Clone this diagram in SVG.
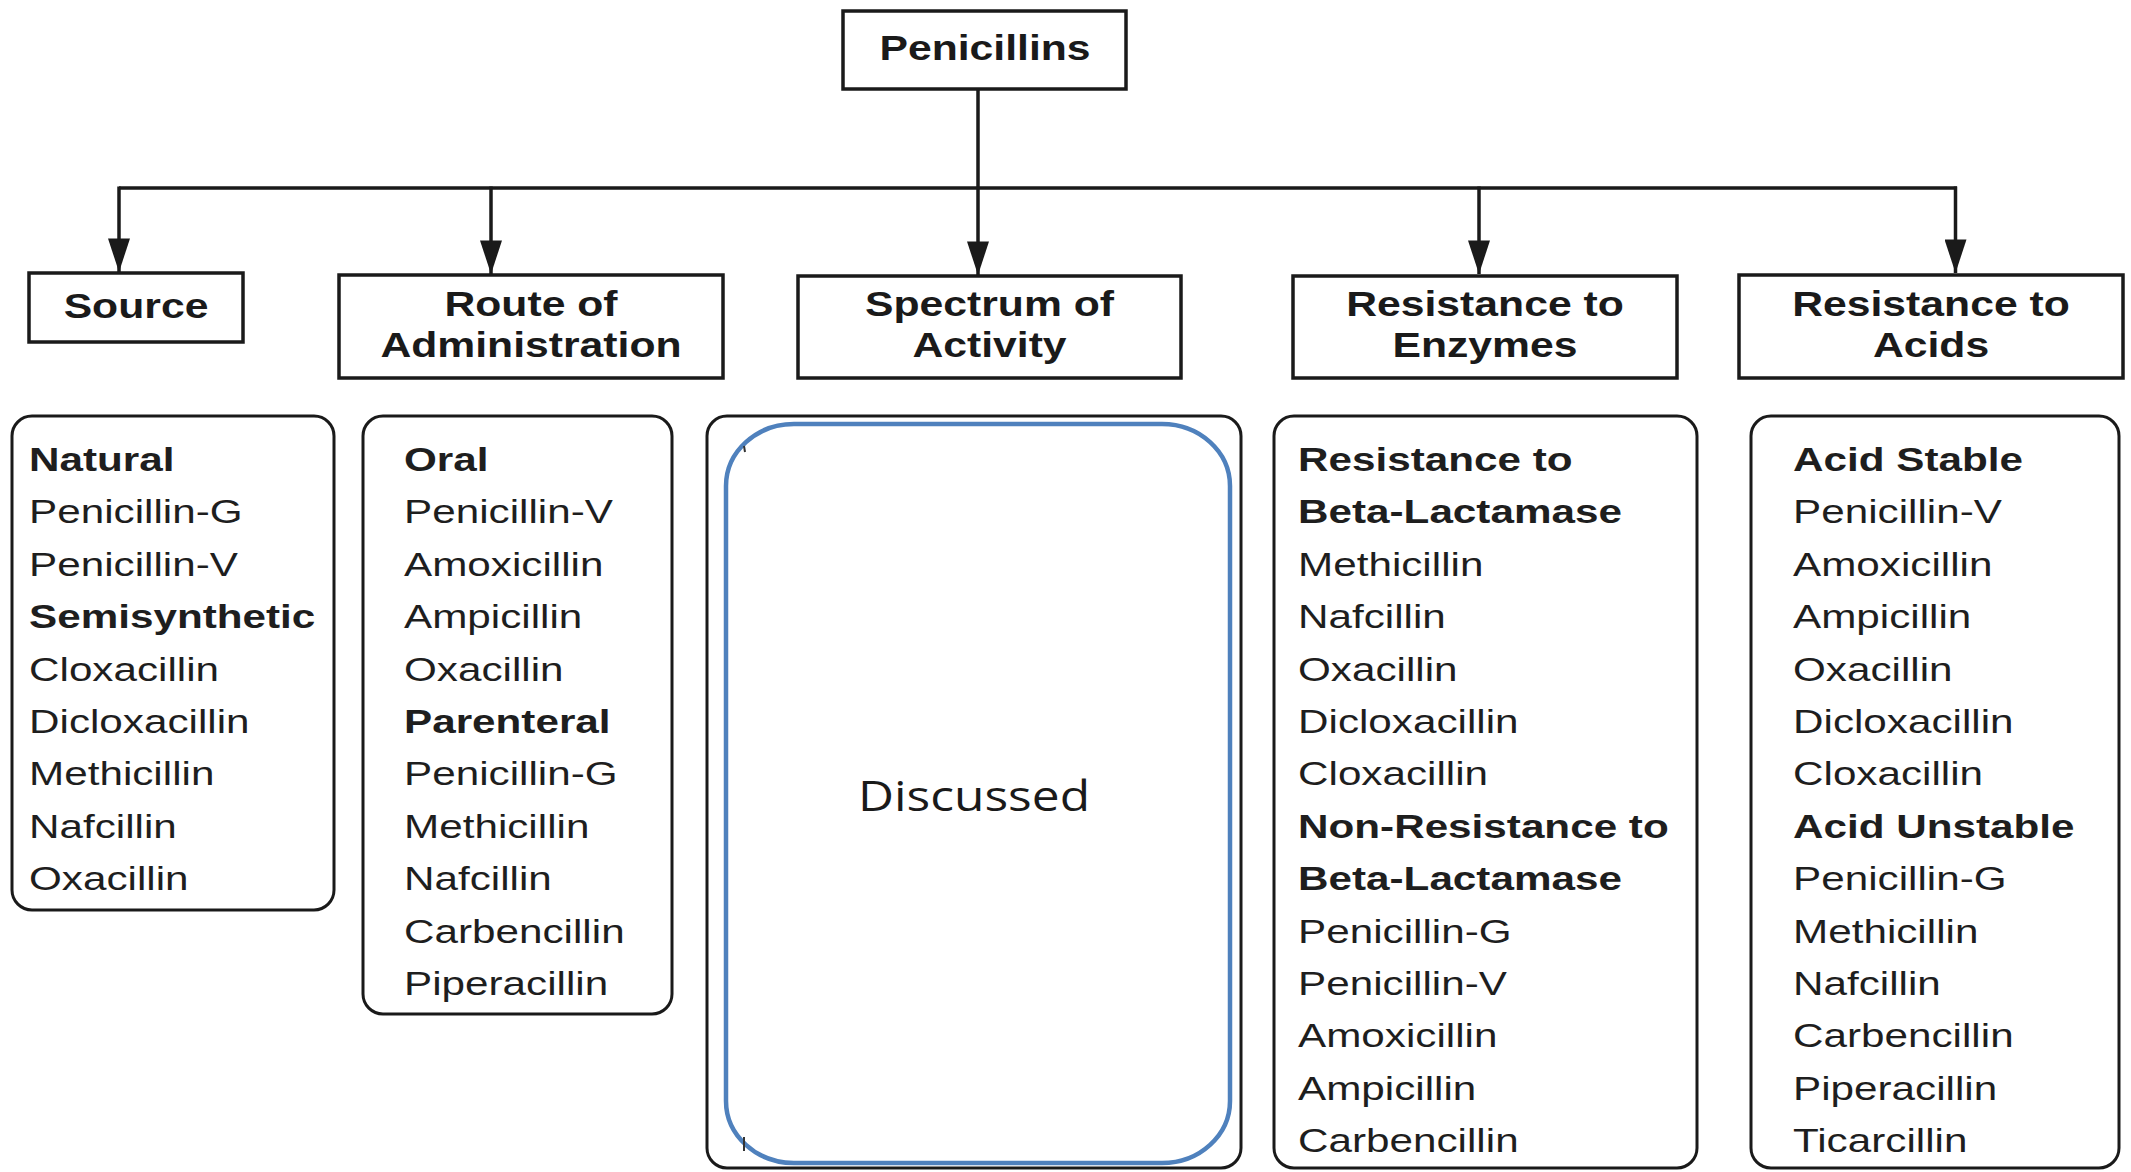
<svg xmlns="http://www.w3.org/2000/svg" width="2131" height="1172" viewBox="0 0 2131 1172">
<defs>
<style>
.box{fill:#fff;stroke:#1a1a1a;stroke-width:3.5}
.list{fill:#fff;stroke:#1a1a1a;stroke-width:3}
.h{font-family:"Liberation Sans",Arial,Helvetica,sans-serif;font-weight:bold;font-size:35px;fill:#1a1a1a;text-anchor:middle}
.t{font-family:"Liberation Sans",Arial,Helvetica,sans-serif;font-size:33px;fill:#1e1e1e}
.b{font-weight:bold}
.conn{stroke:#1a1a1a;stroke-width:3.5;fill:none}
.blue{fill:none;stroke:#4f81bd;stroke-width:4.5}
.disc{font-family:"Open Sans","Noto Sans",sans-serif;font-size:42px;fill:#1a1a1a;text-anchor:middle}
</style>
<marker id="arr" markerUnits="userSpaceOnUse" markerWidth="34" markerHeight="22" refX="32" refY="10.5" orient="auto" viewBox="0 0 32 21">
<path d="M0,0 L32,10.5 L0,21 z" fill="#1a1a1a"/>
</marker>
</defs>
<rect width="2131" height="1172" fill="#fff"/>

<g id="connectors">
<line class="conn" x1="978" y1="89" x2="978" y2="275" marker-end="url(#arr)"/>
<line class="conn" x1="119" y1="188" x2="1957" y2="188"/>
<line class="conn" x1="119" y1="186.5" x2="119" y2="272" marker-end="url(#arr)"/>
<line class="conn" x1="491" y1="186.5" x2="491" y2="274" marker-end="url(#arr)"/>
<line class="conn" x1="1479" y1="186.5" x2="1479" y2="274" marker-end="url(#arr)"/>
<line class="conn" x1="1955.5" y1="186.5" x2="1955.5" y2="273" marker-end="url(#arr)"/>
</g>

<g id="penicillins">
<rect class="box" x="843" y="11" width="283" height="78"/>
<g transform="translate(985,0) scale(1.22,1)"><text class="h" x="0" y="60">Penicillins</text></g>
</g>

<g id="source">
<rect class="box" x="29" y="273" width="214" height="69"/>
<g transform="translate(136,0) scale(1.22,1)"><text class="h" x="0" y="318">Source</text></g>
</g>

<g id="route">
<rect class="box" x="339" y="275" width="384" height="103"/>
<g transform="translate(531,0) scale(1.22,1)"><text class="h" x="0" y="316">Route of</text><text class="h" x="0" y="357">Administration</text></g>
</g>

<g id="spectrum">
<rect class="box" x="798" y="276" width="383" height="102"/>
<g transform="translate(989.5,0) scale(1.22,1)"><text class="h" x="0" y="316">Spectrum of</text><text class="h" x="0" y="357">Activity</text></g>
</g>

<g id="enzymes">
<rect class="box" x="1293" y="276" width="384" height="102"/>
<g transform="translate(1485,0) scale(1.22,1)"><text class="h" x="0" y="316">Resistance to</text><text class="h" x="0" y="357">Enzymes</text></g>
</g>

<g id="acids">
<rect class="box" x="1739" y="275" width="384" height="103"/>
<g transform="translate(1931,0) scale(1.22,1)"><text class="h" x="0" y="316">Resistance to</text><text class="h" x="0" y="357">Acids</text></g>
</g>

<g id="source-list">
<rect class="list" x="12" y="416" width="322" height="494" rx="20"/>
<g transform="translate(29,0) scale(1.28,1)">
<text class="t b" x="0" y="471">Natural</text>
<text class="t" x="0" y="523.4">Penicillin-G</text>
<text class="t" x="0" y="575.8">Penicillin-V</text>
<text class="t b" x="0" y="628.2">Semisynthetic</text>
<text class="t" x="0" y="680.6">Cloxacillin</text>
<text class="t" x="0" y="733">Dicloxacillin</text>
<text class="t" x="0" y="785.4">Methicillin</text>
<text class="t" x="0" y="837.8">Nafcillin</text>
<text class="t" x="0" y="890.2">Oxacillin</text>
</g>
</g>

<g id="route-list">
<rect class="list" x="363" y="416" width="309" height="598" rx="20"/>
<g transform="translate(404,0) scale(1.28,1)">
<text class="t b" x="0" y="471">Oral</text>
<text class="t" x="0" y="523.4">Penicillin-V</text>
<text class="t" x="0" y="575.8">Amoxicillin</text>
<text class="t" x="0" y="628.2">Ampicillin</text>
<text class="t" x="0" y="680.6">Oxacillin</text>
<text class="t b" x="0" y="733">Parenteral</text>
<text class="t" x="0" y="785.4">Penicillin-G</text>
<text class="t" x="0" y="837.8">Methicillin</text>
<text class="t" x="0" y="890.2">Nafcillin</text>
<text class="t" x="0" y="942.6">Carbencillin</text>
<text class="t" x="0" y="995">Piperacillin</text>
</g>
</g>

<g id="spectrum-list">
<rect class="list" x="707" y="416" width="534" height="752" rx="20"/>
<rect class="blue" x="726" y="424" width="504" height="739" rx="68" ry="62"/>
<line x1="744" y1="446" x2="745" y2="452" stroke="#333" stroke-width="2"/>
<line x1="744" y1="1137" x2="744" y2="1151" stroke="#333" stroke-width="2"/>
<text class="disc" x="974" y="811" textLength="232" lengthAdjust="spacingAndGlyphs">Discussed</text>
</g>

<g id="enzymes-list">
<rect class="list" x="1274" y="416" width="423" height="752" rx="20"/>
<g transform="translate(1298,0) scale(1.28,1)">
<text class="t b" x="0" y="471">Resistance to</text>
<text class="t b" x="0" y="523.4">Beta-Lactamase</text>
<text class="t" x="0" y="575.8">Methicillin</text>
<text class="t" x="0" y="628.2">Nafcillin</text>
<text class="t" x="0" y="680.6">Oxacillin</text>
<text class="t" x="0" y="733">Dicloxacillin</text>
<text class="t" x="0" y="785.4">Cloxacillin</text>
<text class="t b" x="0" y="837.8">Non-Resistance to</text>
<text class="t b" x="0" y="890.2">Beta-Lactamase</text>
<text class="t" x="0" y="942.6">Penicillin-G</text>
<text class="t" x="0" y="995">Penicillin-V</text>
<text class="t" x="0" y="1047.4">Amoxicillin</text>
<text class="t" x="0" y="1099.8">Ampicillin</text>
<text class="t" x="0" y="1152.2">Carbencillin</text>
</g>
</g>

<g id="acids-list">
<rect class="list" x="1751" y="416" width="368" height="752" rx="20"/>
<g transform="translate(1793,0) scale(1.28,1)">
<text class="t b" x="0" y="471">Acid Stable</text>
<text class="t" x="0" y="523.4">Penicillin-V</text>
<text class="t" x="0" y="575.8">Amoxicillin</text>
<text class="t" x="0" y="628.2">Ampicillin</text>
<text class="t" x="0" y="680.6">Oxacillin</text>
<text class="t" x="0" y="733">Dicloxacillin</text>
<text class="t" x="0" y="785.4">Cloxacillin</text>
<text class="t b" x="0" y="837.8">Acid Unstable</text>
<text class="t" x="0" y="890.2">Penicillin-G</text>
<text class="t" x="0" y="942.6">Methicillin</text>
<text class="t" x="0" y="995">Nafcillin</text>
<text class="t" x="0" y="1047.4">Carbencillin</text>
<text class="t" x="0" y="1099.8">Piperacillin</text>
<text class="t" x="0" y="1152.2">Ticarcillin</text>
</g>
</g>
</svg>
